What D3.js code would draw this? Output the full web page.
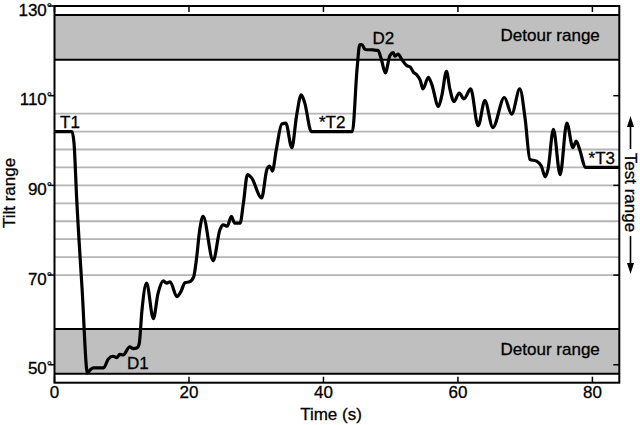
<!DOCTYPE html>
<html><head><meta charset="utf-8">
<script src="https://cdn.jsdelivr.net/npm/d3@7"></script>
<style>
html,body{margin:0;padding:0;background:#fff;}
text{font-family:"Liberation Sans",Arial,Helvetica,sans-serif;fill:#000;stroke:#000;stroke-width:0.3px;}
</style></head>
<body>
<svg id="chart" width="640" height="425"></svg>
<script>
// ---- data ----
const timeS = [0,2.6,2.9,3.3,4.1,4.9,5.4,5.8,7.3,8.0,8.7,9.25,9.7,10.2,11.2,11.7,12.3,12.6,13.0,13.7,14.7,15.4,16.2,16.7,17.2,18.2,18.8,19.4,20.1,20.7,21.1,21.6,22.1,23.6,24.6,25.1,25.7,26.3,26.8,27.6,28.1,28.7,29.3,30.8,31.6,32.0,32.4,33.0,33.8,34.4,35.3,36.0,36.7,37.2,38.2,44.3,45.0,45.4,45.7,46.2,47.4,48.1,48.6,49.2,49.9,50.4,50.6,51.1,51.6,52.4,52.9,53.4,53.9,54.4,54.8,55.6,56.1,57.1,57.6,58.3,58.8,59.4,60.2,60.9,61.9,63.0,64.0,65.2,66.9,68.0,69.2,70.0,70.7,71.7,72.4,73.0,73.4,74.2,75.2,76.2,77.1,77.6,78.1,79.0,84];
const tiltDeg = [102,102,99.5,87,67,48.2,49.0,49.3,49.3,51.3,51.9,51.6,52.3,52.2,54.0,53.6,53.8,54.7,62,68.2,60.3,65.9,68.7,68.2,68.5,65.2,66.3,68.3,68.5,69.6,73.4,80.1,83.1,73.2,80.1,81.2,80.9,83.1,81.6,81.6,86.1,92.4,91.7,87.2,93.6,94.3,93.2,98.1,103.7,103.9,98.4,105.5,110.2,108.5,102,102,116,121.4,121.4,120.3,120.2,120.1,118.2,115.1,119.0,119.6,118.8,119.3,118.2,116.7,116.4,115.2,114.6,113.4,111.5,114.1,112.6,107.6,110.0,115.4,111.5,108.7,110.6,109.3,111.5,103.3,108.9,102.9,109.6,105.9,111.5,104.8,95.8,95.4,94.3,91.9,93.6,102.5,92.4,103.9,98.4,99.9,98.0,94,94];
const xTicks = [0,20,40,60,80];
const yTicks = [50,70,90,110,130];
const testRangeLines = [70,74,78,82,86,90,94,98,102,106];
const detourBands = [[118,128],[48,58]];
const detourLabel = "Detour range";
const markLabels = ["T1","D1","*T2","D2","*T3"];
const markTimes = [2.3,12.4,41.3,48.9,81.4];
const markTilts = [102.7,49.1,102.7,121.5,94.7];

// ---- scales ----
const svg = d3.select("#chart");
const x = d3.scaleLinear().domain([0,84]).range([54.5,619.3]);
const y = d3.scaleLinear().domain([46,130]).range([382.7,6]);
const X0 = x.range()[0], X1 = x.range()[1], Y0 = y.range()[0], Y1 = y.range()[1];

// detour bands
svg.selectAll("rect.band").data(detourBands).enter().append("rect")
  .attr("x",X0).attr("width",X1-X0)
  .attr("y",d=>y(d[1])).attr("height",d=>y(d[0])-y(d[1]))
  .attr("fill","#bfbfbf");
detourBands.forEach(b=>{
  b.forEach(v=>{
    svg.append("line").attr("x1",X0).attr("x2",X1).attr("y1",y(v)).attr("y2",y(v))
      .attr("stroke","#000").attr("stroke-width",2);
  });
});

// test range lines
svg.selectAll("line.test").data(testRangeLines).enter().append("line")
  .attr("x1",X0).attr("x2",X1).attr("y1",d=>y(d)).attr("y2",d=>y(d))
  .attr("stroke","#b5b5b5").attr("stroke-width",1.8);

// frame
svg.append("rect").attr("x",X0).attr("y",Y1).attr("width",X1-X0).attr("height",Y0-Y1)
  .attr("fill","none").attr("stroke","#000").attr("stroke-width",2);

// ticks
const tickLen = 6;
yTicks.forEach(v=>{
  svg.append("line").attr("x1",X0-tickLen).attr("x2",X0).attr("y1",y(v)).attr("y2",y(v)).attr("stroke","#000").attr("stroke-width",1.5);
  svg.append("line").attr("x1",X1-tickLen).attr("x2",X1).attr("y1",y(v)).attr("y2",y(v)).attr("stroke","#000").attr("stroke-width",1.5);
  const t = svg.append("text").attr("x",52).attr("y",y(v)+9.5).attr("text-anchor","end").attr("font-size",17);
  t.append("tspan").text(String(v));
  t.append("tspan").attr("font-size",13).attr("dy",-4).text("°");
});
xTicks.forEach(v=>{
  svg.append("line").attr("x1",x(v)).attr("x2",x(v)).attr("y1",Y0-tickLen).attr("y2",Y0).attr("stroke","#000").attr("stroke-width",1.5);
  svg.append("line").attr("x1",x(v)).attr("x2",x(v)).attr("y1",Y1).attr("y2",Y1+tickLen).attr("stroke","#000").attr("stroke-width",1.5);
  svg.append("text").attr("x",x(v)).attr("y",Y0+15.5).attr("text-anchor","middle").attr("font-size",17).text(String(v));
});

// data line
const line = d3.line().x((d,i)=>x(timeS[i])).y((d,i)=>y(tiltDeg[i])).curve(d3.curveMonotoneX);
svg.append("path").attr("d",line(timeS)).attr("fill","none").attr("stroke","#000")
  .attr("stroke-width",3.2).attr("stroke-linejoin","round");

// labels
markLabels.forEach((s,i)=>{
  svg.append("text").attr("x",x(markTimes[i])).attr("y",y(markTilts[i]))
    .attr("text-anchor","middle").attr("font-size",17).text(s);
});
svg.append("text").attr("x",x(81.1)).attr("y",y(122.3)).attr("text-anchor","end").attr("font-size",17).text(detourLabel);
svg.append("text").attr("x",x(81.1)).attr("y",y(52.2)).attr("text-anchor","end").attr("font-size",17).text(detourLabel);

// axis titles
svg.append("text").attr("transform","translate(15,193) rotate(-90)").attr("text-anchor","middle").attr("font-size",17).text("Tilt range");
svg.append("text").attr("x",331).attr("y",420).attr("text-anchor","middle").attr("font-size",17).text("Time (s)");

// Test range with arrows
svg.append("text").attr("transform","translate(625,192.5) rotate(90)").attr("text-anchor","middle").attr("font-size",17).text("Test range");
const ax = 630.5;
svg.append("line").attr("x1",ax).attr("x2",ax).attr("y1",124).attr("y2",149).attr("stroke","#000").attr("stroke-width",1.6);
svg.append("path").attr("d",`M${ax},116 L${ax-3.5},127 L${ax+3.5},127 Z`).attr("fill","#000");
svg.append("line").attr("x1",ax).attr("x2",ax).attr("y1",236).attr("y2",265).attr("stroke","#000").attr("stroke-width",1.6);
svg.append("path").attr("d",`M${ax},274 L${ax-3.5},263 L${ax+3.5},263 Z`).attr("fill","#000");
</script>
</body></html>
